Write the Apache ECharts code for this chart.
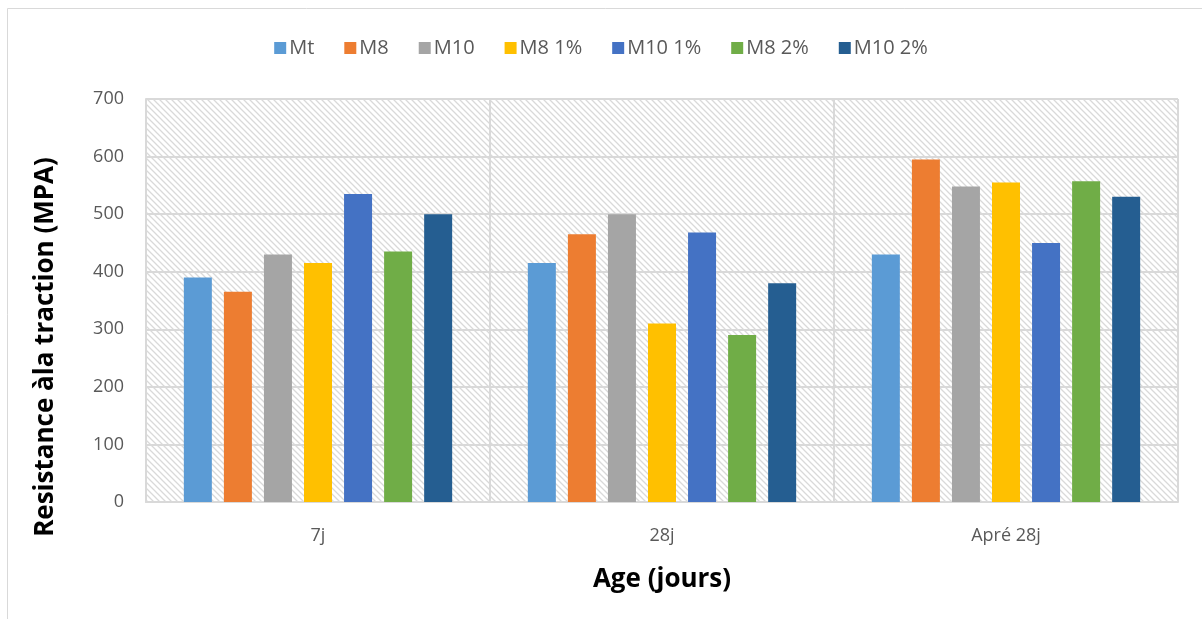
<!DOCTYPE html>
<html>
<head>
<meta charset="utf-8">
<script src="https://cdn.jsdelivr.net/npm/echarts@6/dist/echarts.min.js"></script>
<style>html,body{margin:0;padding:0;background:#fff}#c{width:1202px;height:619px}</style>
</head>
<body>
<div id="c"></div>
<script>
var categories = ['7j', '28j', 'Apré 28j'];
var seriesNames = ['Mt', 'M8', 'M10', 'M8 1%', 'M10 1%', 'M8 2%', 'M10 2%'];
var Mt = [390, 415, 430];
var M8 = [365, 465, 595];
var M10 = [430, 500, 548];
var M8_1 = [415, 310, 555];
var M10_1 = [535, 468, 450];
var M8_2 = [435, 290, 557];
var M10_2 = [500, 380, 530];
var yTicks = [0, 100, 200, 300, 400, 500, 600, 700];
var yTitle = 'Resistance àla traction (MPA)';
var xTitle = 'Age (jours)';
var colors = ['#5b9bd5', '#ed7d31', '#a5a5a5', '#ffc000', '#4472c4', '#70ad47', '#255e91'];
var values = [Mt, M8, M10, M8_1, M10_1, M8_2, M10_2];

var pc = document.createElement('canvas');
pc.width = 6; pc.height = 6;
var g = pc.getContext('2d');
g.fillStyle = '#ffffff'; g.fillRect(0, 0, 6, 6);
g.strokeStyle = '#d9d9d9'; g.lineWidth = 1.3;
g.beginPath();
g.moveTo(-1, -1); g.lineTo(7, 7);
g.moveTo(-7, -1); g.lineTo(1, 7);
g.moveTo(5, -1); g.lineTo(13, 7);
g.stroke();

var font = "'Open Sans', 'Liberation Sans', sans-serif";
var chart = echarts.init(document.getElementById('c'));
chart.setOption({
  animation: false,
  backgroundColor: '#ffffff',
  textStyle: { fontFamily: font },
  graphic: [{
    type: 'rect', shape: { x: 7.5, y: 8.5, width: 1210, height: 630 },
    style: { fill: 'none', stroke: '#d9d9d9', lineWidth: 1 }, silent: true, z: -10
  }, {
    type: 'text', x: 46, y: 347, rotation: Math.PI / 2,
    style: { text: yTitle, font: "bold 26px 'Open Sans', sans-serif", fill: '#000',
      textAlign: 'center', textVerticalAlign: 'middle' }, silent: true
  }],
  legend: {
    top: 33, left: 'center', itemWidth: 12, itemHeight: 12, itemGap: 30,
    icon: 'rect',
    textStyle: { color: '#595959', fontSize: 20, fontFamily: font, padding: [0, 0, 0, -2] },
    data: seriesNames
  },
  grid: {
    left: 146, right: 24, top: 99, bottom: 117,
    show: true, backgroundColor: { image: pc, repeat: 'repeat' },
    borderColor: '#d9d9d9', borderWidth: 1
  },
  xAxis: {
    type: 'category', data: categories,
    name: xTitle, nameLocation: 'middle', nameGap: 65,
    nameTextStyle: { fontSize: 26, fontWeight: 'bold', color: '#000', fontFamily: font },
    axisLine: { lineStyle: { color: '#d9d9d9', width: 2 } },
    axisTick: { show: false },
    axisLabel: { color: '#595959', fontSize: 18, margin: 25 },
    splitLine: { show: true, interval: 0, lineStyle: { color: '#d9d9d9', width: 2 } }
  },
  yAxis: {
    type: 'value', min: 0, max: 700, interval: 100,
    axisLine: { show: true, lineStyle: { color: '#d9d9d9', width: 2 } },
    axisTick: { show: false },
    axisLabel: { color: '#595959', fontSize: 18, margin: 22,
      formatter: function (v) { return yTicks.indexOf(v) >= 0 ? String(v) : ''; } },
    splitLine: { lineStyle: { color: '#d9d9d9', width: 2 } }
  },
  series: seriesNames.map(function (n, i) {
    return {
      name: n, type: 'bar', data: values[i],
      itemStyle: { color: colors[i] },
      barGap: '43%', barCategoryGap: '22%'
    };
  })
});
</script>
</body>
</html>
